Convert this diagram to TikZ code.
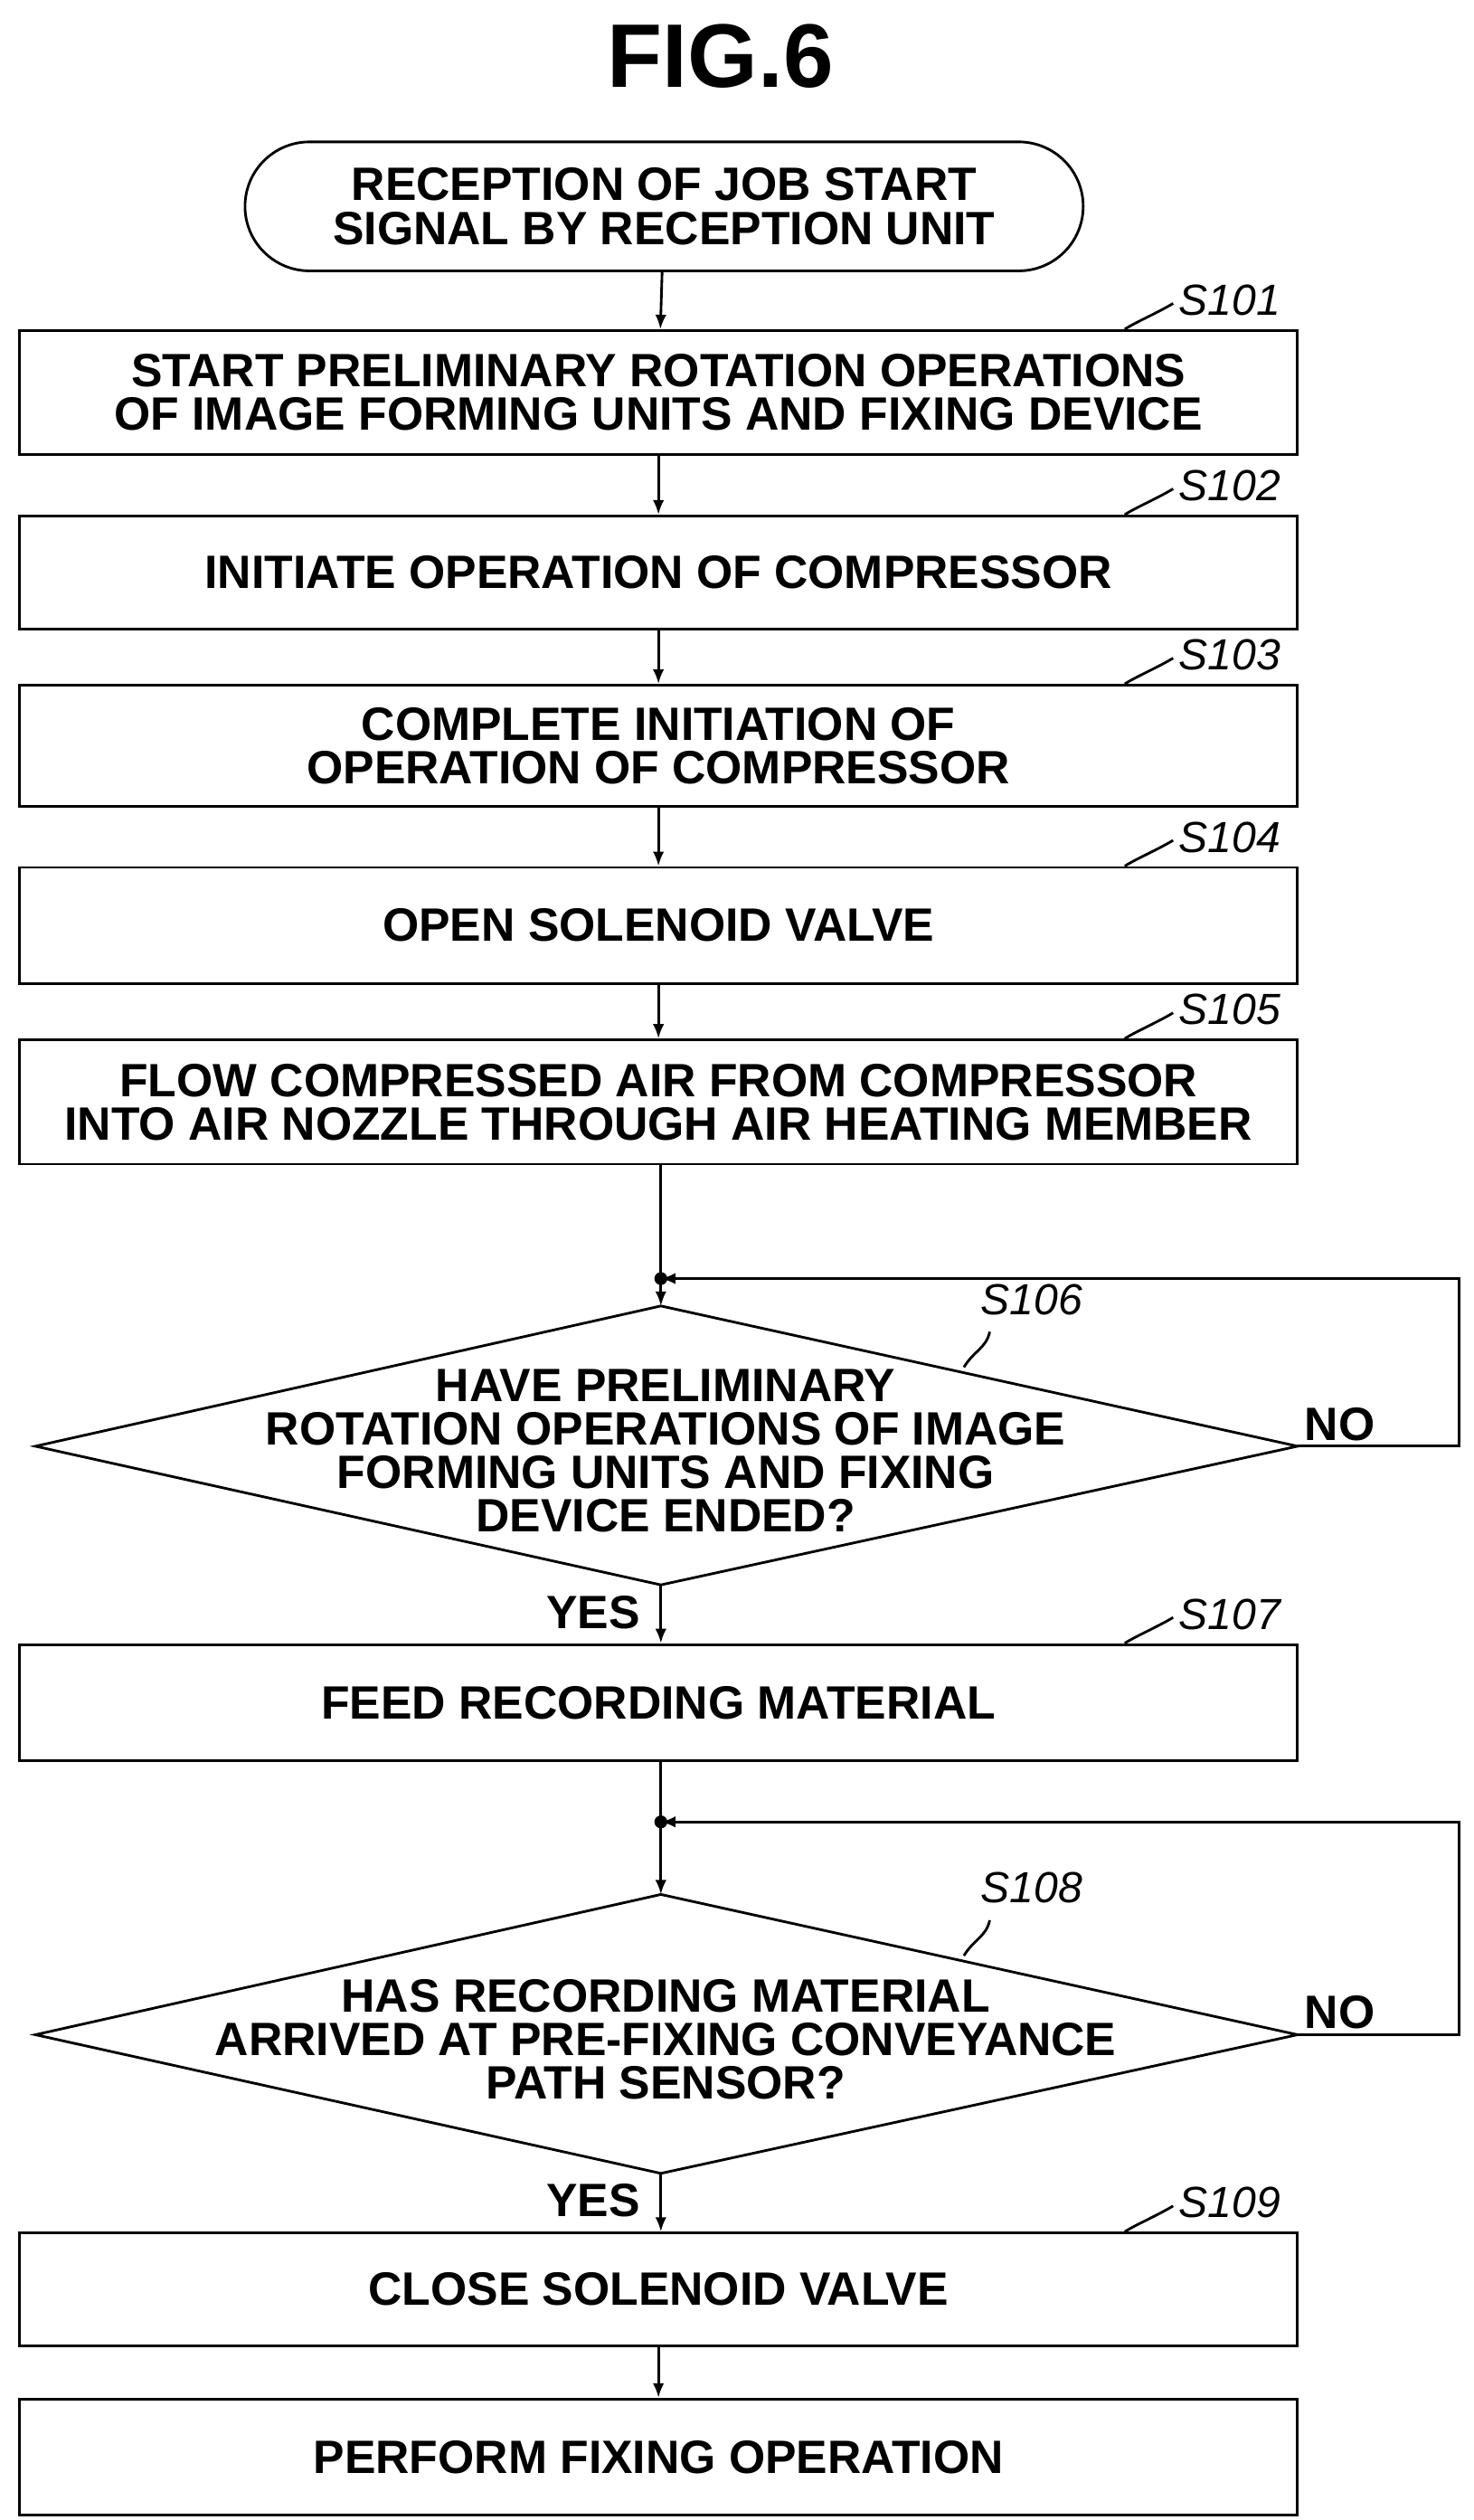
\documentclass[tikz,border=0pt]{standalone}
\usepackage{fontspec}
\setmainfont{Liberation Sans}
\usetikzlibrary{shapes.geometric,arrows.meta}
\begin{document}
\begin{tikzpicture}[x=1pt,y=-1pt,
  txt/.style={font=\fontsize{29}{27}\selectfont\bfseries, align=center},
  box/.style={draw, line width=1.6pt, txt, minimum width=793pt, inner sep=0pt},
  lab/.style={font=\fontsize{27}{27}\selectfont\itshape},
  arr/.style={line width=1.6pt, -{Latex[length=9pt,width=7pt]}},
  ln/.style={line width=1.6pt}]
\useasboundingbox (0,0) rectangle (914,1563);
\node[font=\fontsize{56}{60}\selectfont\bfseries] (title) at (447,35) {FIG.6};
\node[draw, line width=1.6pt, rounded corners=40pt, minimum width=520pt, minimum height=80pt, txt] (st) at (412,128) {RECEPTION OF JOB START\\SIGNAL BY RECEPTION UNIT};
\node[box, minimum height=77pt] (b1) at (408.5,243.5) {START PRELIMINARY ROTATION OPERATIONS\\OF IMAGE FORMING UNITS AND FIXING DEVICE};
\node[box, minimum height=70pt] (b2) at (408.5,355) {INITIATE OPERATION OF COMPRESSOR};
\node[box, minimum height=75pt] (b3) at (408.5,462.5) {COMPLETE INITIATION OF\\OPERATION OF COMPRESSOR};
\node[box, minimum height=72pt] (b4) at (408.5,574) {OPEN SOLENOID VALVE};
\node[box, minimum height=77pt] (b5) at (408.5,683.5) {FLOW COMPRESSED AIR FROM COMPRESSOR\\INTO AIR NOZZLE THROUGH AIR HEATING MEMBER};
\coordinate (j1) at (410,793);
% diamond 1
\coordinate (d1n) at (410,810); \coordinate (d1s) at (410,983);
\coordinate (d1w) at (22,897); \coordinate (d1e) at (805,897);
\draw[ln] (d1n) -- (d1e) -- (d1s) -- (d1w) -- cycle;
\node[txt] (d1) at (413,900) {HAVE PRELIMINARY\\ROTATION OPERATIONS OF IMAGE\\FORMING UNITS AND FIXING\\DEVICE ENDED?};
\node[box, minimum height=72pt] (b7) at (408.5,1056) {FEED RECORDING MATERIAL};
\coordinate (j2) at (410,1130);
\coordinate (d2n) at (410,1175); \coordinate (d2s) at (410,1348);
\coordinate (d2w) at (22,1262); \coordinate (d2e) at (805,1262);
\draw[ln] (d2n) -- (d2e) -- (d2s) -- (d2w) -- cycle;
\node[txt] (d2) at (413,1265) {HAS RECORDING MATERIAL\\ARRIVED AT PRE-FIXING CONVEYANCE\\PATH SENSOR?};
\node[box, minimum height=70pt] (b9) at (408.5,1420) {CLOSE SOLENOID VALVE};
\node[box, minimum height=72pt] (b10) at (408.5,1524) {PERFORM FIXING OPERATION};
% labels
\foreach \n/\t in {b1/S101,b2/S102,b3/S103,b4/S104,b5/S105,b7/S107,b9/S109}{
  \draw[ln] ([xshift=-108]\n.north east) .. controls +(6,-4) and +(-10,6) .. ++(30,-16);
  \node[lab, anchor=west] at ([xshift=-78,yshift=18]\n.north east) {\t};
}
\draw[ln] (598,848) .. controls (604,838) and (612,836) .. (614,826);
\node[lab] at (640,806) {S106};
\draw[ln] (598,1213) .. controls (604,1203) and (612,1201) .. (614,1191);
\node[lab] at (640,1171) {S108};
% arrows
\draw[arr] (st) -- (b1);
\draw[arr] (b1) -- (b2);
\draw[arr] (b2) -- (b3);
\draw[arr] (b3) -- (b4);
\draw[arr] (b4) -- (b5);
\draw[ln] (b5.south -| j1) -- (j1);
\fill (j1) circle (4pt);
\draw[arr] (j1) -- (d1n);
\draw[arr] (d1e) -- (905,897) -- (905,793) -- (j1);
\node[txt, anchor=south west] at (806,897) {NO};
\draw[arr] (d1s) -- (j1 |- b7.north);
\node[txt] at (368,1000) {YES};
\draw[ln] (b7.south -| j2) -- (j2);
\fill (j2) circle (4pt);
\draw[arr] (j2) -- (d2n);
\draw[arr] (d2e) -- (905,1262) -- (905,1130) -- (j2);
\node[txt, anchor=south west] at (806,1262) {NO};
\draw[arr] (d2s) -- (j2 |- b9.north);
\node[txt] at (368,1365) {YES};
\draw[arr] (b9) -- (b10);
\end{tikzpicture}
\end{document}
